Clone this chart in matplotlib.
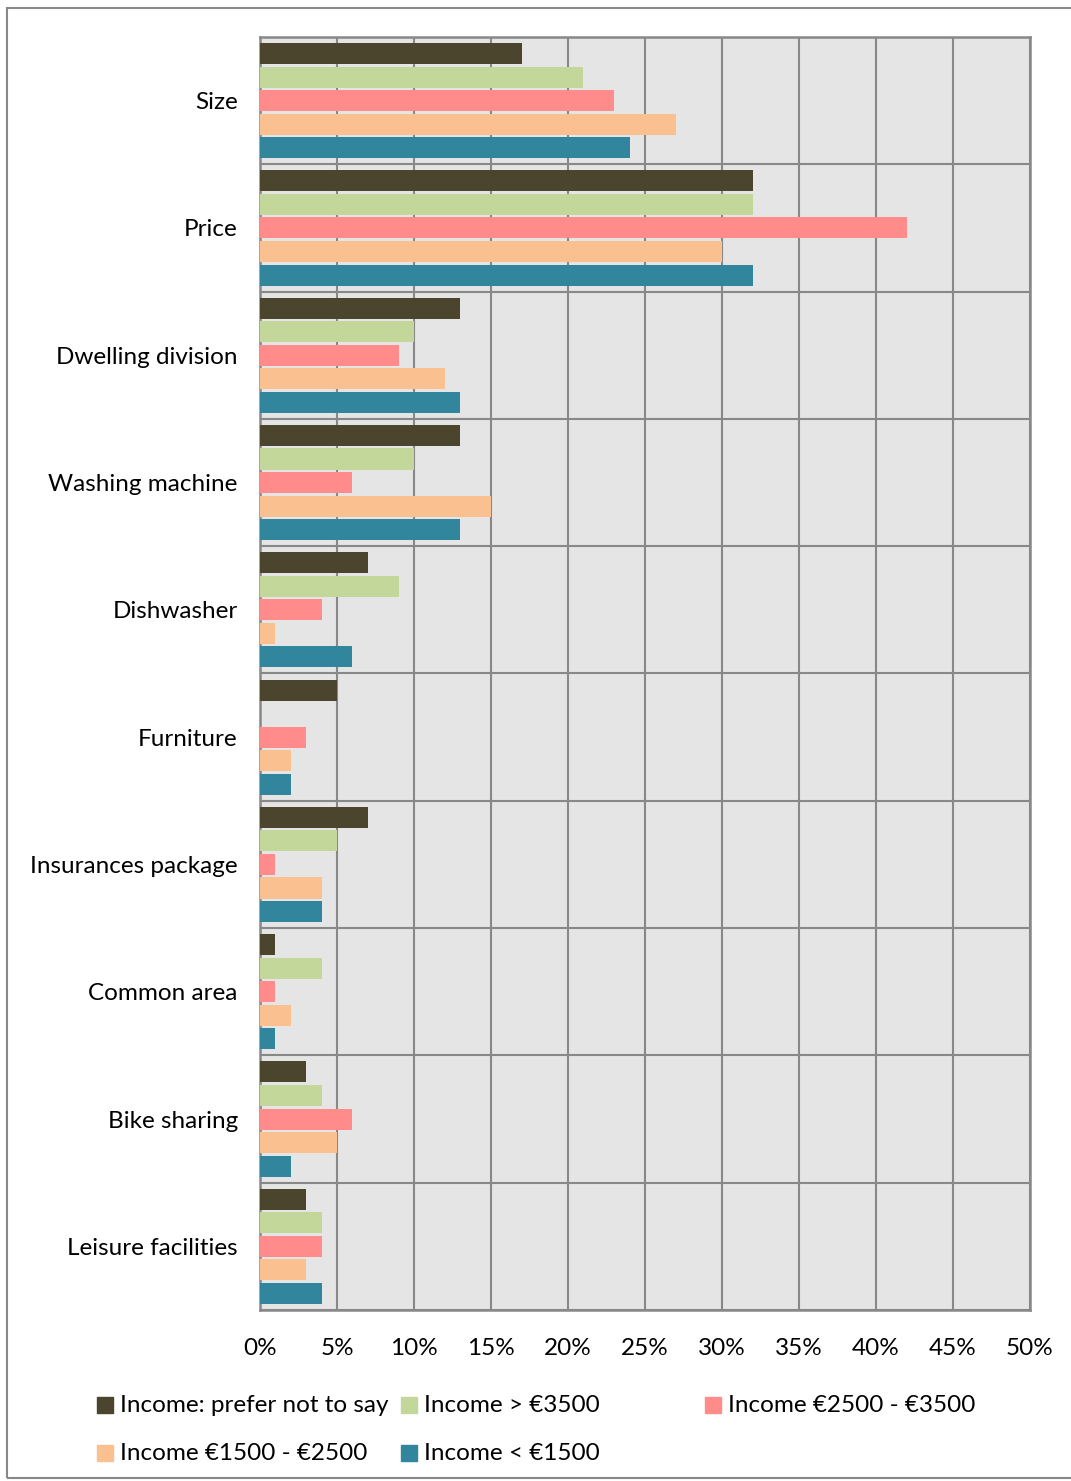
import numpy as np
import matplotlib
matplotlib.use("Agg")
import matplotlib.pyplot as plt
from matplotlib.patches import Rectangle

plt.rcParams['font.family'] = ['Lato', 'DejaVu Sans']

categories = ["Size", "Price", "Dwelling division", "Washing machine", "Dishwasher",
              "Furniture", "Insurances package", "Common area", "Bike sharing",
              "Leisure facilities"]
series_labels = ["Income: prefer not to say", "Income > €3500", "Income €2500 - €3500",
                 "Income €1500 - €2500", "Income < €1500"]
prefer_not = [17, 32, 13, 13, 7, 5, 7, 1, 3, 3]
above_3500 = [21, 32, 10, 10, 9, 0, 5, 4, 4, 4]
inc_2500_3500 = [23, 42, 9, 6, 4, 3, 1, 1, 6, 4]
inc_1500_2500 = [27, 30, 12, 15, 1, 2, 4, 2, 5, 3]
below_1500 = [24, 32, 13, 13, 6, 2, 4, 1, 2, 4]
colors = ["#4a452c", "#c4d79b", "#ff8b8b", "#fac090", "#31859c"]

series = [prefer_not, above_3500, inc_2500_3500, inc_1500_2500, below_1500]

fig = plt.figure(figsize=(10.71, 14.81), dpi=100)
ax = fig.add_axes([260/1071, 1 - 1310/1481, 770/1071, 1273/1481])
ax.set_facecolor("#e5e5e5")

n = len(categories)
y = np.arange(n)
slot = 0.185
bar_h = 0.165
for i, (vals, c, lab) in enumerate(zip(series, colors, series_labels)):
    offs = (i - 2) * slot
    ax.barh(y + offs, vals, height=bar_h, color=c, label=lab, zorder=3)

ax.set_ylim(n - 0.5, -0.5)
ax.set_xlim(0, 50)
ax.set_xticks(np.arange(0, 51, 5))
ax.set_xticklabels([f"{v}%" for v in range(0, 51, 5)])
ax.set_yticks(y)
ax.set_yticklabels(categories)
ax.set_yticks(np.arange(n + 1) - 0.5, minor=True)
ax.tick_params(axis='both', which='both', length=0, labelsize=17.5)
ax.tick_params(axis='y', pad=16)
ax.tick_params(axis='x', pad=20)
ax.grid(axis='x', which='major', color="#888888", linewidth=1.5, zorder=1)
ax.grid(axis='y', which='minor', color="#888888", linewidth=1.5, zorder=1)
ax.set_axisbelow(True)
for s in ax.spines.values():
    s.set_color("#888888")
    s.set_linewidth(1.8)

# legend, laid out row by row like the original
for i, (lab, c) in enumerate(zip(series_labels, colors)):
    row, col = divmod(i, 3)
    x0 = (97 + col * 304) / 1071
    yc = 1 - (1405 + row * 48) / 1481
    fig.add_artist(Rectangle((x0, yc - 8/1481), 16/1071, 16/1481,
                             transform=fig.transFigure, color=c))
    fig.text(x0 + 23/1071, yc, lab, fontsize=17.5, va='center', ha='left')

fig.add_artist(Rectangle((7/1071, 1 - 1478/1481), 1.1, 1470/1481,
                         transform=fig.transFigure, fill=False,
                         edgecolor="#888888", linewidth=1.5))

fig.savefig("out.png", dpi=100)
